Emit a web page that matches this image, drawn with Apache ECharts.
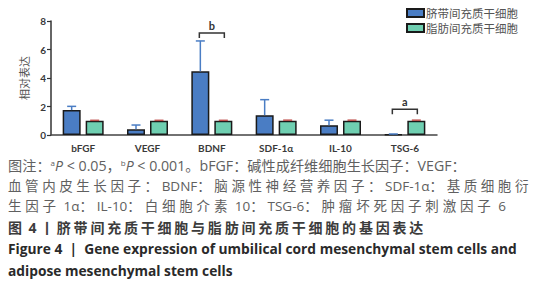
<!DOCTYPE html>
<html>
<head>
<meta charset="utf-8">
<script src="https://cdn.jsdelivr.net/npm/echarts@6/dist/echarts.min.js"></script>
<style>
  html, body { margin: 0; padding: 0; background: #fff; }
  #chart { width: 550px; height: 300px; }
</style>
</head>
<body>
<div id="chart"></div>
<script>
// ---- data ----
const categories = ['bFGF', 'VEGF', 'BDNF', 'SDF-1α', 'IL-10', 'TSG-6'];
const seriesNames = ['脐带间充质干细胞', '脂肪间充质干细胞'];
const ucMeans = [1.75, 0.40, 4.47, 1.39, 0.69, 0.05];
const ucErr   = [0.26, 0.30, 2.13, 1.09, 0.35, 0.02];
const adMeans = [1.0, 1.0, 1.0, 1.0, 1.0, 1.0];
const adErr   = [0.03, 0.03, 0.03, 0.04, 0.04, 0.04];
const yTicks = [0, 2, 4, 6, 8];
const yAxisName = '相对表达';
const sigCategories = ['BDNF', 'TSG-6'];
const sigLevels = [7.15, 1.80];
const sigLabels = ['b', 'a'];
const captionLines = [
  '图注：{sup|a}{it|P} < 0.05，{sup|b}{it|P} < 0.001。bFGF：碱性成纤维细胞生长因子：VEGF：',
  '血管内皮生长因子：BDNF：脑源性神经营养因子：SDF-1α：基质细胞衍',
  '生因子 1α：IL-10：白细胞介素 10：TSG-6：肿瘤坏死因子刺激因子 6',
  '图 4 丨脐带间充质干细胞与脂肪间充质干细胞的基因表达',
  'Figure 4  |  Gene expression of umbilical cord mesenchymal stem cells and',
  'adipose mesenchymal stem cells'
];

// ---- styles / layout ----
const BLUE = '#4a7dc4';
const GREEN = '#6fcfb1';
const BAR_W = 18;
const BAR_GAP = 5;
const OFF = (BAR_W + BAR_GAP) / 2;
const FONT = "Lato, 'Noto Sans CJK SC', sans-serif";
const CAP_FONT = "'Open Sans', 'Noto Sans CJK SC', sans-serif";
const captionY = [168, 189, 209, 230, 252, 274];
const captionSize = [14.2, 13.5, 13.5, 14, 13.75, 13.75];
const captionRight = [null, 532, 506, 426, null, null]; // lines whose CJK tracking is stretched

function errorSeries(name, means, errs, sign, color) {
  return {
    type: 'custom',
    name: name,
    z: 5,
    data: means.map((m, i) => [i, m, errs[i]]),
    encode: { x: 0, y: 1 },
    renderItem: function (params, api) {
      const x = api.value(0), y = api.value(1), e = api.value(2);
      const p0 = api.coord([x, y]);
      const p1 = api.coord([x, y + e]);
      const cx = p0[0] + sign * OFF;
      return {
        type: 'group',
        children: [
          { type: 'line', shape: { x1: cx, y1: p0[1], x2: cx, y2: p1[1] }, style: { stroke: color, lineWidth: 1.5 } },
          { type: 'line', shape: { x1: cx - 4.5, y1: p1[1], x2: cx + 4.5, y2: p1[1] }, style: { stroke: color, lineWidth: 1.5 } }
        ]
      };
    }
  };
}

const sigSeries = {
  type: 'custom',
  name: 'sig',
  z: 6,
  data: sigCategories.map((c, i) => [categories.indexOf(c), sigLevels[i], sigLabels[i]]),
  encode: { x: 0, y: 1 },
  renderItem: function (params, api) {
    const x = api.value(0), y = api.value(1);
    const lbl = sigLabels[params.dataIndex];
    const p = api.coord([x, y]);
    const xl = p[0] - OFF - 1, xr = p[0] + OFF + 1;
    return {
      type: 'group',
      children: [
        { type: 'polyline', shape: { points: [[xl, p[1] + 5], [xl, p[1]], [xr, p[1]], [xr, p[1] + 5]] },
          style: { stroke: '#333', lineWidth: 1.5, fill: null } },
        { type: 'text', style: { text: lbl, x: p[0], y: p[1] - 8, align: 'center', verticalAlign: 'middle',
          font: "bold 11px " + FONT, fill: '#333' } }
      ]
    };
  }
};

const captionGraphics = captionLines.map((t, i) => {
  let weight = 'normal', color = '#606060';
  const size = captionSize[i];
  if (i === 3) { weight = 'bold'; color = '#3c3c3c'; }
  if (i >= 4) { weight = 'bold'; color = '#2a2a2a'; }
  return {
    type: 'text',
    id: 'cap' + i,
    left: 8,
    top: captionY[i] - 10,
    style: {
      text: t,
      fontFamily: CAP_FONT,
      fontSize: size,
      fontWeight: weight,
      fill: color,
      rich: {
        sup: { fontSize: 8, verticalAlign: 'top', fontFamily: CAP_FONT, fill: color, padding: [0, 0, 6, 0] },
        it: { fontStyle: 'italic', fontSize: size, fontFamily: CAP_FONT, fill: color }
      }
    }
  };
});

const chart = echarts.init(document.getElementById('chart'), null, { renderer: 'svg' });
chart.setOption({
  animation: false,
  backgroundColor: '#fff',
  grid: { left: 51, right: 113, top: 21, bottom: 165, containLabel: false },
  legend: {
    data: seriesNames,
    orient: 'vertical',
    left: 406,
    top: 7,
    padding: 0,
    itemWidth: 17,
    itemHeight: 8,
    itemGap: 3,
    icon: 'rect',
    textStyle: { fontFamily: "'Noto Sans CJK SC', sans-serif", fontSize: 11.5, lineHeight: 12, color: '#555', padding: [0, 0, 0, -3] }
  },
  xAxis: {
    type: 'category',
    data: categories,
    axisLine: { lineStyle: { color: '#444', width: 1.5 } },
    axisTick: { show: false },
    axisLabel: { margin: 8, fontFamily: FONT, fontSize: 10, fontWeight: 'bold', color: '#3a3a3a' }
  },
  yAxis: {
    type: 'value',
    min: yTicks[0],
    max: yTicks[yTicks.length - 1],
    interval: yTicks[1] - yTicks[0],
    name: yAxisName,
    nameLocation: 'middle',
    nameGap: 22,
    nameTextStyle: { fontFamily: "'Noto Sans CJK SC', sans-serif", fontSize: 11, color: '#555' },
    axisLine: { show: true, lineStyle: { color: '#333', width: 1.5 } },
    axisTick: { show: true, length: 4, lineStyle: { color: '#333', width: 1.2 } },
    axisLabel: { margin: 5, fontFamily: FONT, fontSize: 10, fontWeight: 'bold', color: '#3a3a3a' },
    splitLine: { show: false }
  },
  series: [
    { type: 'bar', name: seriesNames[0], data: ucMeans, barWidth: BAR_W, barGap: (BAR_GAP / BAR_W * 100) + '%',
      itemStyle: { color: BLUE, borderColor: '#1a1a1a', borderWidth: 1.5 } },
    { type: 'bar', name: seriesNames[1], data: adMeans, barWidth: BAR_W,
      itemStyle: { color: GREEN, borderColor: '#1a1a1a', borderWidth: 1.5 } },
    errorSeries('err0', ucMeans, ucErr, -1, BLUE),
    errorSeries('err1', adMeans, adErr, 1, '#c0504d'),
    sigSeries
  ],
  graphic: captionGraphics
});
chart.getZr().flush();

// stretch the tracking of the CJK runs in the justified caption lines (like the typeset original)
const CJK_RE = /[\u2E80-\u9FFF\uFF00-\uFFEF\u3000-\u303F]+|[^\u2E80-\u9FFF\uFF00-\uFFEF\u3000-\u303F]+/g;
const IS_CJK = /[\u2E80-\u9FFF\uFF00-\uFFEF\u3000-\u303F]/;
function trackCaption() {
  const SVGNS = 'http://www.w3.org/2000/svg';
  document.querySelectorAll('#chart text').forEach(el => {
    const s = el.textContent || '';
    const i = captionLines.indexOf(s);
    if (i < 0 || captionRight[i] == null) return;
    let spans = el.querySelectorAll('tspan.trk');
    if (spans.length === 0) {
      const runs = s.match(CJK_RE) || [];
      el.textContent = '';
      runs.forEach(r => {
        const t = document.createElementNS(SVGNS, 'tspan');
        t.setAttribute('class', 'trk');
        t.textContent = r;
        if (IS_CJK.test(r)) t.setAttribute('data-cjk', '1');
        el.appendChild(t);
      });
      spans = el.querySelectorAll('tspan.trk');
    }
    spans.forEach(t => { t.style.letterSpacing = ''; });
    const svgLeft = el.ownerSVGElement.getBoundingClientRect().left;
    const r = el.getBoundingClientRect();
    const x0 = r.left - svgLeft;
    const len = r.width;
    let nCjk = 0;
    spans.forEach(t => { if (t.getAttribute('data-cjk')) nCjk += t.textContent.length; });
    if (!nCjk) return;
    const sp = (captionRight[i] - x0 - len) / nCjk;
    spans.forEach(t => { if (t.getAttribute('data-cjk')) t.style.letterSpacing = sp.toFixed(2) + 'px'; });
  });
}
trackCaption();
if (document.fonts && document.fonts.ready) document.fonts.ready.then(trackCaption);
</script>
</body>
</html>
